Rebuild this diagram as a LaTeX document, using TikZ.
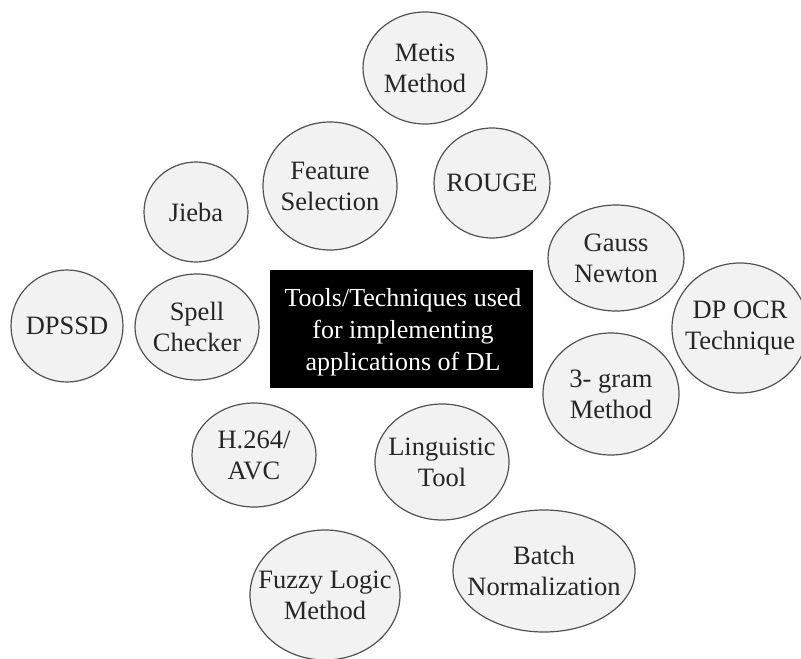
\documentclass[tikz,border=0pt]{standalone}
\usepackage{fontspec}
\setmainfont{Liberation Serif}
\begin{document}
\begin{tikzpicture}[x=1pt,y=-1pt,
  bubline/.style={draw=black!68, line width=1.2pt, fill=black!5},
  bubtext/.style={inner sep=0pt, align=center, font=\fontsize{26.5}{31}\selectfont, text=black!85},
  centerbox/.style={fill=black, text=white, inner sep=0pt, minimum width=263pt, minimum height=118pt, align=center, font=\fontsize{26}{32}\selectfont}
]
\newcommand\mybub[6]{%
  \draw[bubline] (#2,#3) ellipse [x radius=#4, y radius=#5];
  \node[bubtext] (#1) at (#2,#3) {#6};}
\useasboundingbox (0,0) rectangle (801,659);
\begin{scope}
\clip (0,0) rectangle (801,659);
\node[centerbox] (center) at (401.5,329) {};
\node[text=white, inner sep=0pt, align=center, font=\fontsize{26}{32}\selectfont] (centertext) at (403,332) {Tools/Techniques used\\for implementing\\applications of DL};
\mybub{metis}{425}{68}{62}{56}{Metis\\Method}
\mybub{feat}{330}{186}{67}{64}{Feature\\Selection}
\mybub{rouge}{492}{183}{58}{55}{ROUGE}
\mybub{jieba}{196}{212}{52}{50}{Jieba}
\mybub{gauss}{616}{258}{68}{53}{Gauss\\Newton}
\mybub{dpocr}{740}{328}{68}{65}{DP OCR\\Technique}
\mybub{dpssd}{67}{326}{56}{56}{DPSSD}
\mybub{spell}{197}{327}{62}{53}{Spell\\Checker}
\mybub{havc}{254}{455}{62}{52}{H.264/\\AVC}
\mybub{ling}{442}{462}{67}{58}{Linguistic\\Tool}
\mybub{gram}{611}{394}{68}{61}{3- gram\\Method}
\mybub{batch}{544}{571}{91}{61}{Batch\\Normalization}
\mybub{fuzzy}{325}{595}{75}{65}{Fuzzy Logic\\Method}
\end{scope}
\end{tikzpicture}
\end{document}
